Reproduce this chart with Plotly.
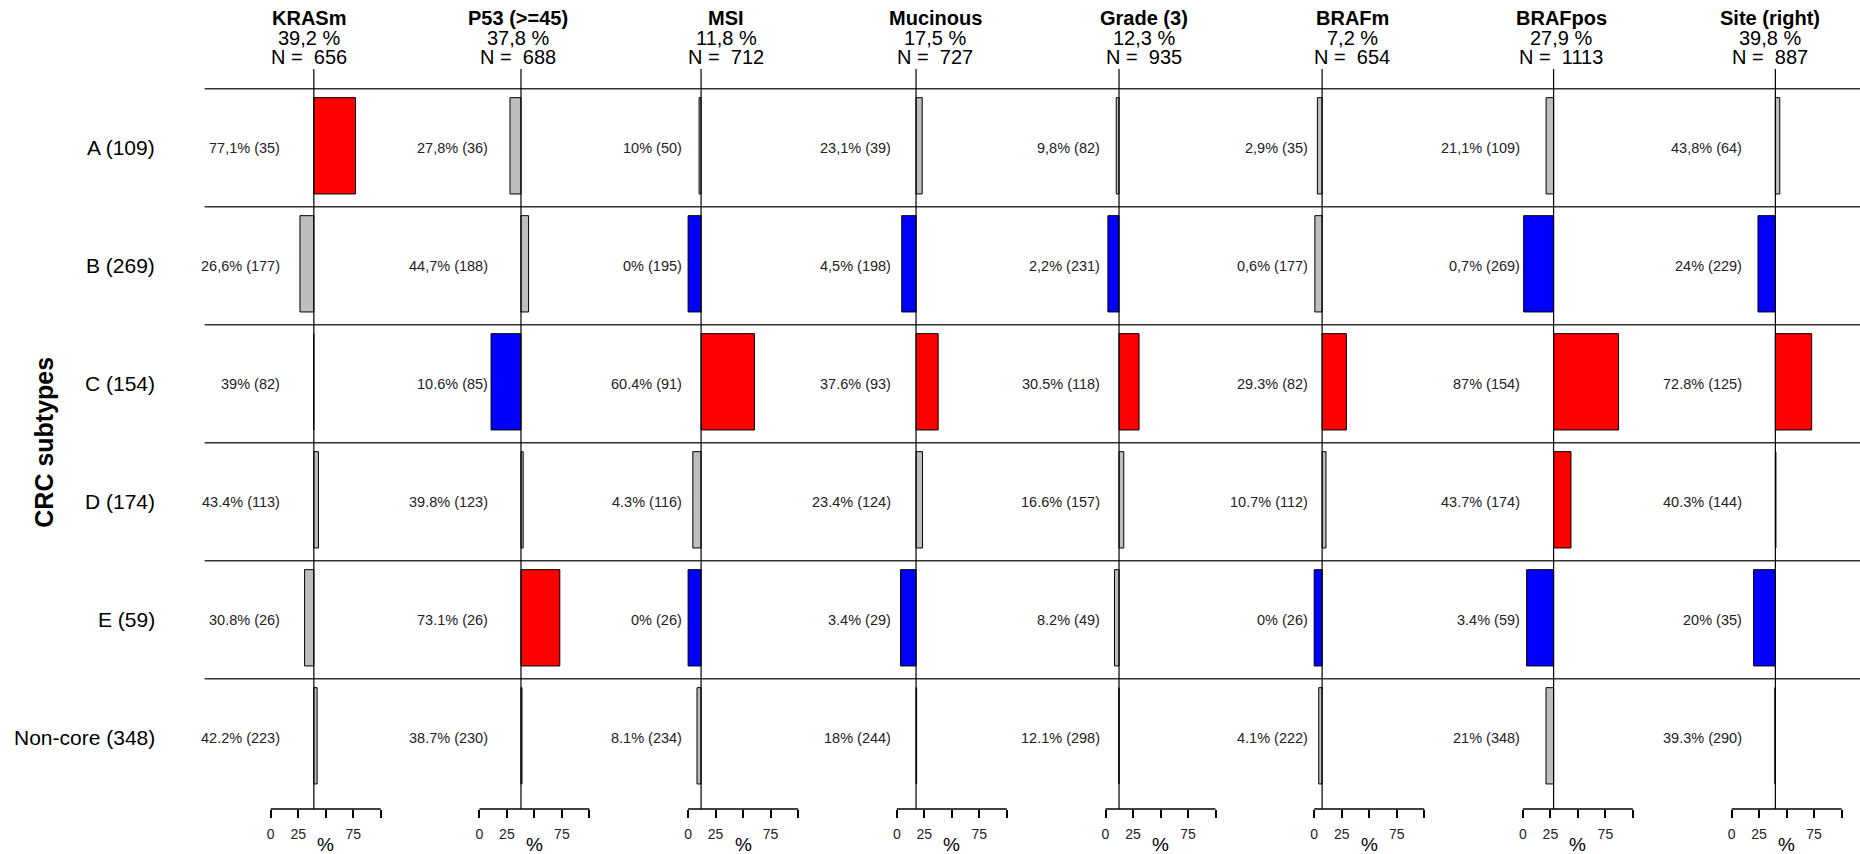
import plotly.graph_objects as go

# ---------------- data ----------------
markers = ["KRASm", "P53 (>=45)", "MSI", "Mucinous", "Grade (3)", "BRAFm", "BRAFpos", "Site (right)"]
overall_pct = [39.2, 37.8, 11.8, 17.5, 12.3, 7.2, 27.9, 39.8]
overall_n = [656, 688, 712, 727, 935, 654, 1113, 887]
subtypes = ["A (109)", "B (269)", "C (154)", "D (174)", "E (59)", "Non-core (348)"]

kras_pct = [77.1, 26.6, 39.0, 43.4, 30.8, 42.2]
kras_n = [35, 177, 82, 113, 26, 223]
kras_sig = ["up", "ns", "ns", "ns", "ns", "ns"]

p53_pct = [27.8, 44.7, 10.6, 39.8, 73.1, 38.7]
p53_n = [36, 188, 85, 123, 26, 230]
p53_sig = ["ns", "ns", "down", "ns", "up", "ns"]

msi_pct = [10.0, 0.0, 60.4, 4.3, 0.0, 8.1]
msi_n = [50, 195, 91, 116, 26, 234]
msi_sig = ["ns", "down", "up", "ns", "down", "ns"]

muc_pct = [23.1, 4.5, 37.6, 23.4, 3.4, 18.0]
muc_n = [39, 198, 93, 124, 29, 244]
muc_sig = ["ns", "down", "up", "ns", "down", "ns"]

grade_pct = [9.8, 2.2, 30.5, 16.6, 8.2, 12.1]
grade_n = [82, 231, 118, 157, 49, 298]
grade_sig = ["ns", "down", "up", "ns", "ns", "ns"]

brafm_pct = [2.9, 0.6, 29.3, 10.7, 0.0, 4.1]
brafm_n = [35, 177, 82, 112, 26, 222]
brafm_sig = ["ns", "ns", "up", "ns", "down", "ns"]

brafpos_pct = [21.1, 0.7, 87.0, 43.7, 3.4, 21.0]
brafpos_n = [109, 269, 154, 174, 59, 348]
brafpos_sig = ["ns", "down", "up", "up", "down", "ns"]

site_pct = [43.8, 24.0, 72.8, 40.3, 20.0, 39.3]
site_n = [64, 229, 125, 144, 35, 290]
site_sig = ["ns", "down", "up", "ns", "down", "ns"]

tick_vals = [0, 25, 50, 75, 100]
tick_text = ["0", "25", "", "75", ""]

all_pct = [kras_pct, p53_pct, msi_pct, muc_pct, grade_pct, brafm_pct, brafpos_pct, site_pct]
all_n = [kras_n, p53_n, msi_n, muc_n, grade_n, brafm_n, brafpos_n, site_n]
all_sig = [kras_sig, p53_sig, msi_sig, muc_sig, grade_sig, brafm_sig, brafpos_sig, site_sig]

# ---------------- style / layout constants ----------------
W, H = 1860, 854
FONT = "Liberation Sans, Arial, Helvetica, sans-serif"
sig_color = {"up": "#FF0000", "down": "#0000FF", "ns": "#BEBEBE"}
head_dec = ","
row_dec = [",", ",", ".", ".", ".", "."]

px_per_unit = 1.1
zero0 = 270.7
panel_step = 208.7
xmin_u, xmax_u = -60.0, 129.5

ytop_px, ybot_px = 69.0, 809.0
row_px = 118.0
row0_px = 147.7
y_top_u = -(row0_px - ytop_px) / row_px
y_bot_u = y_top_u + (ybot_px - ytop_px) / row_px


def fmt(v, dec):
    s = ("%.1f" % v).rstrip("0").rstrip(".")
    return s.replace(".", dec)


def ypaper(px):
    return 1 - px / H


fig = go.Figure()
shapes = []
annotations = []
layout_axes = {}

n_rows = len(subtypes)
rows = list(range(n_rows))

for i, name in enumerate(markers):
    ov = overall_pct[i]
    vals = all_pct[i]
    left_px = zero0 + i * panel_step + xmin_u * px_per_unit
    right_px = left_px + (xmax_u - xmin_u) * px_per_unit
    rmax = xmax_u
    if right_px > W:
        rmax = xmin_u + (W - left_px) / px_per_unit
        right_px = W
    ax = "x" if i == 0 else f"x{i+1}"
    axkey = "xaxis" if i == 0 else f"xaxis{i+1}"
    layout_axes[axkey] = dict(
        domain=[left_px / W, right_px / W], range=[xmin_u, rmax], anchor="y",
        showgrid=False, zeroline=False, showline=False,
        ticks="outside", tickvals=tick_vals, ticktext=tick_text,
        ticklen=8, tickwidth=1.5, tickcolor="black",
        tickfont=dict(size=14, color="#222", family=FONT),
        ticklabelstandoff=4, fixedrange=True,
    )

    fig.add_trace(go.Bar(
        y=rows, x=[v - ov for v in vals], base=ov, orientation="h",
        width=0.816, offset=-0.424,
        marker=dict(color=[sig_color[s] for s in all_sig[i]], line=dict(color="black", width=1)),
        xaxis=ax, yaxis="y", showlegend=False, hoverinfo="skip",
    ))

    # overall reference line
    shapes.append(dict(type="line", xref=ax, yref="y domain", x0=ov, x1=ov, y0=0, y1=1,
                       line=dict(color="black", width=1.2), layer="above"))
    # bottom axis line spanning tick range
    shapes.append(dict(type="line", xref=ax, yref="y domain", x0=tick_vals[0], x1=tick_vals[-1],
                       y0=0, y1=0, line=dict(color="black", width=1.5)))

    # header
    annotations.append(dict(xref=ax, yref="paper", x=(xmin_u + xmax_u) / 2, y=ypaper(18),
                            text=f"<b>{name}</b>", showarrow=False, xanchor="center", yanchor="middle",
                            font=dict(size=20, color="black", family=FONT)))
    annotations.append(dict(xref=ax, yref="paper", x=(xmin_u + xmax_u) / 2, y=ypaper(38.5),
                            text=f"{fmt(ov, head_dec)} %", showarrow=False, xanchor="center", yanchor="middle",
                            font=dict(size=20, color="black", family=FONT)))
    annotations.append(dict(xref=ax, yref="paper", x=(xmin_u + xmax_u) / 2, y=ypaper(57),
                            text=f"N =  {overall_n[i]}".replace(" ", "&nbsp;"), showarrow=False,
                            xanchor="center", yanchor="middle",
                            font=dict(size=20, color="black", family=FONT)))
    # % axis title
    annotations.append(dict(xref=ax, yref="paper", x=(tick_vals[0] + tick_vals[-1]) / 2, y=ypaper(844),
                            text="%", showarrow=False, xanchor="center", yanchor="middle",
                            font=dict(size=19, color="black", family=FONT)))
    # value labels
    lab_x = max(ov - 25, 0) - 3.6
    for r in rows:
        annotations.append(dict(xref=ax, yref="y", x=lab_x, y=r,
                                text=f"{fmt(vals[r], row_dec[r])}% ({all_n[i][r]})", showarrow=False,
                                xanchor="right", yanchor="middle",
                                font=dict(size=14.5, color="#222", family=FONT)))

# row separators
line_left = (zero0 + xmin_u * px_per_unit) / W
for r in rows:
    shapes.append(dict(type="line", xref="paper", yref="y", x0=line_left, x1=1, y0=r - 0.5, y1=r - 0.5,
                       line=dict(color="#333", width=1.6), layer="below"))

# row labels
for r, lab in enumerate(subtypes):
    annotations.append(dict(xref="paper", yref="y", x=157 / W, y=r, text=lab, showarrow=False,
                            xanchor="right", yanchor="middle",
                            font=dict(size=21, color="black", family=FONT)))

annotations.append(dict(xref="paper", yref="y", x=44 / W, y=(n_rows - 1) / 2, text="<b>CRC subtypes</b>",
                        textangle=-90, showarrow=False, xanchor="center", yanchor="middle",
                        font=dict(size=25, color="black", family=FONT)))

fig.update_layout(
    width=W, height=H, margin=dict(l=0, r=0, t=0, b=0),
    paper_bgcolor="white", plot_bgcolor="white",
    barmode="overlay", showlegend=False,
    yaxis=dict(domain=[1 - ybot_px / H, 1 - ytop_px / H], range=[y_bot_u, y_top_u],
               visible=False, anchor="x", fixedrange=True),
    shapes=shapes, annotations=annotations,
    font=dict(family=FONT),
    **layout_axes,
)

fig.write_html("out.html", config={"displayModeBar": False},
               post_script="document.body.style.margin='0';document.body.style.overflow='hidden';")
